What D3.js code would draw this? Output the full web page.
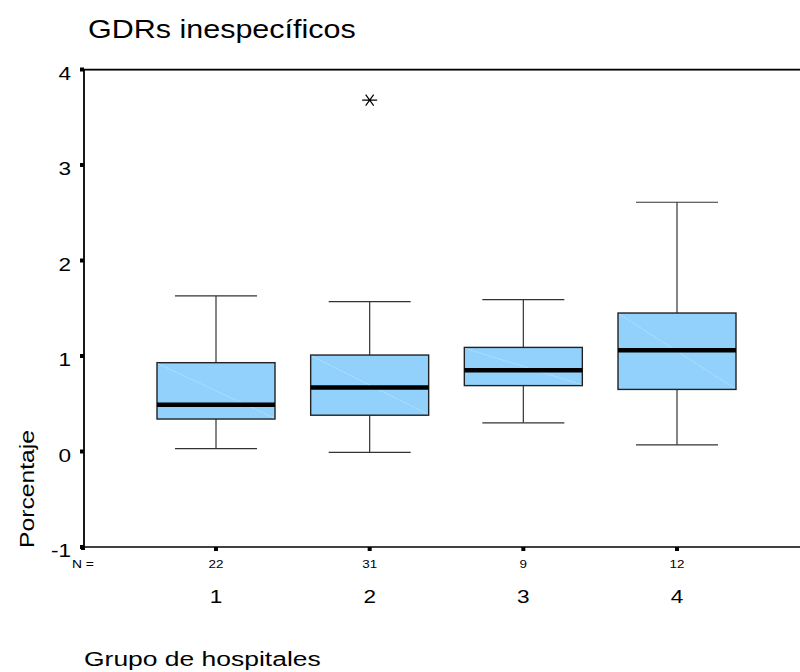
<!DOCTYPE html>
<html>
<head>
<meta charset="utf-8">
<script src="https://cdn.jsdelivr.net/npm/d3@7"></script>
<style>
  html, body { margin: 0; padding: 0; background: #fff; }
  svg { display: block; font-family: "Liberation Sans", Arial, sans-serif; }
</style>
</head>
<body>
<svg id="chart" width="800" height="672"></svg>
<script>
// Hospital groups and their box-plot summaries (percentage of unspecific DRGs)
const groups    = ["1", "2", "3", "4"];
const counts    = [22, 31, 9, 12];
const whiskerLo = [0.03, -0.01, 0.30, 0.07];
const q1        = [0.34, 0.38, 0.69, 0.65];
const medians   = [0.49, 0.67, 0.85, 1.06];
const q3        = [0.93, 1.01, 1.09, 1.45];
const whiskerHi = [1.63, 1.57, 1.59, 2.61];
// Extreme values: [group, value]
const extremes  = [["2", 3.68]];
const yTicks    = [-1, 0, 1, 2, 3, 4];

const svg = d3.select("#chart");

const plotLeft = 84, plotRight = 800, plotTop = 69.5, plotBottom = 547;
const x = d3.scalePoint().domain(groups).range([216, 677]);
const y = d3.scaleLinear().domain([-1, 4]).range([plotBottom, plotTop]);

const boxHalf = 59, capHalf = 41;
const SX = 1.22; // horizontal text stretch

function label(g, tx, ty, str, size, anchor, sx) {
  return g.append("text")
    .attr("transform", `translate(${tx},${ty}) scale(${sx || SX},1)`)
    .attr("text-anchor", anchor || "start")
    .attr("font-size", size)
    .attr("fill", "#000")
    .text(str);
}

const boxes = groups.map((g, i) => ({
  g, n: counts[i], lo: whiskerLo[i], q1: q1[i], med: medians[i], q3: q3[i], hi: whiskerHi[i]
}));

// Frame: top and bottom rules, left axis line
svg.append("line").attr("x1", plotLeft).attr("x2", plotRight).attr("y1", plotTop + 1).attr("y2", plotTop + 1)
  .attr("stroke", "#999").attr("stroke-width", 1);
svg.append("line").attr("x1", plotLeft).attr("x2", plotRight).attr("y1", plotTop).attr("y2", plotTop)
  .attr("stroke", "#000").attr("stroke-width", 1.6);
svg.append("line").attr("x1", plotLeft).attr("x2", plotRight).attr("y1", plotBottom).attr("y2", plotBottom)
  .attr("stroke", "#000").attr("stroke-width", 1.6);
svg.append("line").attr("x1", plotLeft).attr("x2", plotLeft).attr("y1", plotTop).attr("y2", plotBottom)
  .attr("stroke", "#000").attr("stroke-width", 1.8);

// Y ticks (small squares) and labels
const yAxis = svg.append("g");
yTicks.forEach(t => {
  yAxis.append("rect").attr("x", plotLeft - 4).attr("y", y(t) - 2).attr("width", 4).attr("height", 4).attr("fill", "#000");
  label(yAxis, 71, y(t) + 10, String(t), 18.5, "end");
});

// X ticks, counts and group labels
const xAxis = svg.append("g");
xAxis.append("rect").attr("x", plotLeft - 3).attr("y", plotBottom - 1).attr("width", 4).attr("height", 4).attr("fill", "#000");
label(xAxis, 72, 568, "N =", 11, "start", 1.26);
boxes.forEach(b => {
  const cx = x(b.g);
  xAxis.append("rect").attr("x", cx - 2).attr("y", plotBottom).attr("width", 4).attr("height", 4).attr("fill", "#000");
  label(xAxis, cx, 568, String(b.n), 11, "middle");
  label(xAxis, cx, 603, b.g, 18.5, "middle");
});

// Box plots
const bx = svg.append("g");
boxes.forEach(b => {
  const cx = x(b.g);
  const g = bx.append("g");
  // whiskers
  g.append("line").attr("x1", cx).attr("x2", cx).attr("y1", y(b.hi)).attr("y2", y(b.q3))
    .attr("stroke", "#333").attr("stroke-width", 1.2);
  g.append("line").attr("x1", cx).attr("x2", cx).attr("y1", y(b.q1)).attr("y2", y(b.lo))
    .attr("stroke", "#333").attr("stroke-width", 1.2);
  [b.hi, b.lo].forEach(v => {
    g.append("line").attr("x1", cx - capHalf).attr("x2", cx + capHalf).attr("y1", y(v)).attr("y2", y(v))
      .attr("stroke", "#333").attr("stroke-width", 1.2);
  });
  // box
  g.append("rect").attr("x", cx - boxHalf).attr("y", y(b.q3))
    .attr("width", boxHalf * 2).attr("height", y(b.q1) - y(b.q3))
    .attr("fill", "#91d1fb").attr("stroke", "#222").attr("stroke-width", 1.4);
  // faint diagonal sheen
  g.append("line").attr("x1", cx - boxHalf + 1).attr("y1", y(b.q3) + 1)
    .attr("x2", cx + boxHalf - 1).attr("y2", y(b.q1) - 1)
    .attr("stroke", "#fff").attr("stroke-opacity", 0.45).attr("stroke-width", 0.8)
    .attr("stroke-dasharray", "2,1");
  // median
  g.append("line").attr("x1", cx - boxHalf).attr("x2", cx + boxHalf).attr("y1", y(b.med)).attr("y2", y(b.med))
    .attr("stroke", "#000").attr("stroke-width", 4.5);
});

// Extreme values drawn as asterisks
extremes.forEach(([g, v]) => {
  const cx = x(g), cy = y(v), r = 7.5, ry = 5.5;
  svg.append("path")
    .attr("d", `M${cx - r},${cy}L${cx + r},${cy}` +
               `M${cx - 4},${cy - ry}L${cx + 4},${cy + ry}` +
               `M${cx - 4},${cy + ry}L${cx + 4},${cy - ry}`)
    .attr("stroke", "#000").attr("stroke-width", 1.2).attr("fill", "none");
});

// Titles
label(svg, 88, 38, "GDRs inespecíficos", 25, "start", 1.22);
label(svg, 84, 666, "Grupo de hospitales", 21, "start", 1.26);
svg.append("text")
  .attr("transform", "translate(34,548) rotate(-90)")
  .attr("font-size", 21)
  .attr("textLength", 118).attr("lengthAdjust", "spacingAndGlyphs")
  .text("Porcentaje");
</script>
</body>
</html>
